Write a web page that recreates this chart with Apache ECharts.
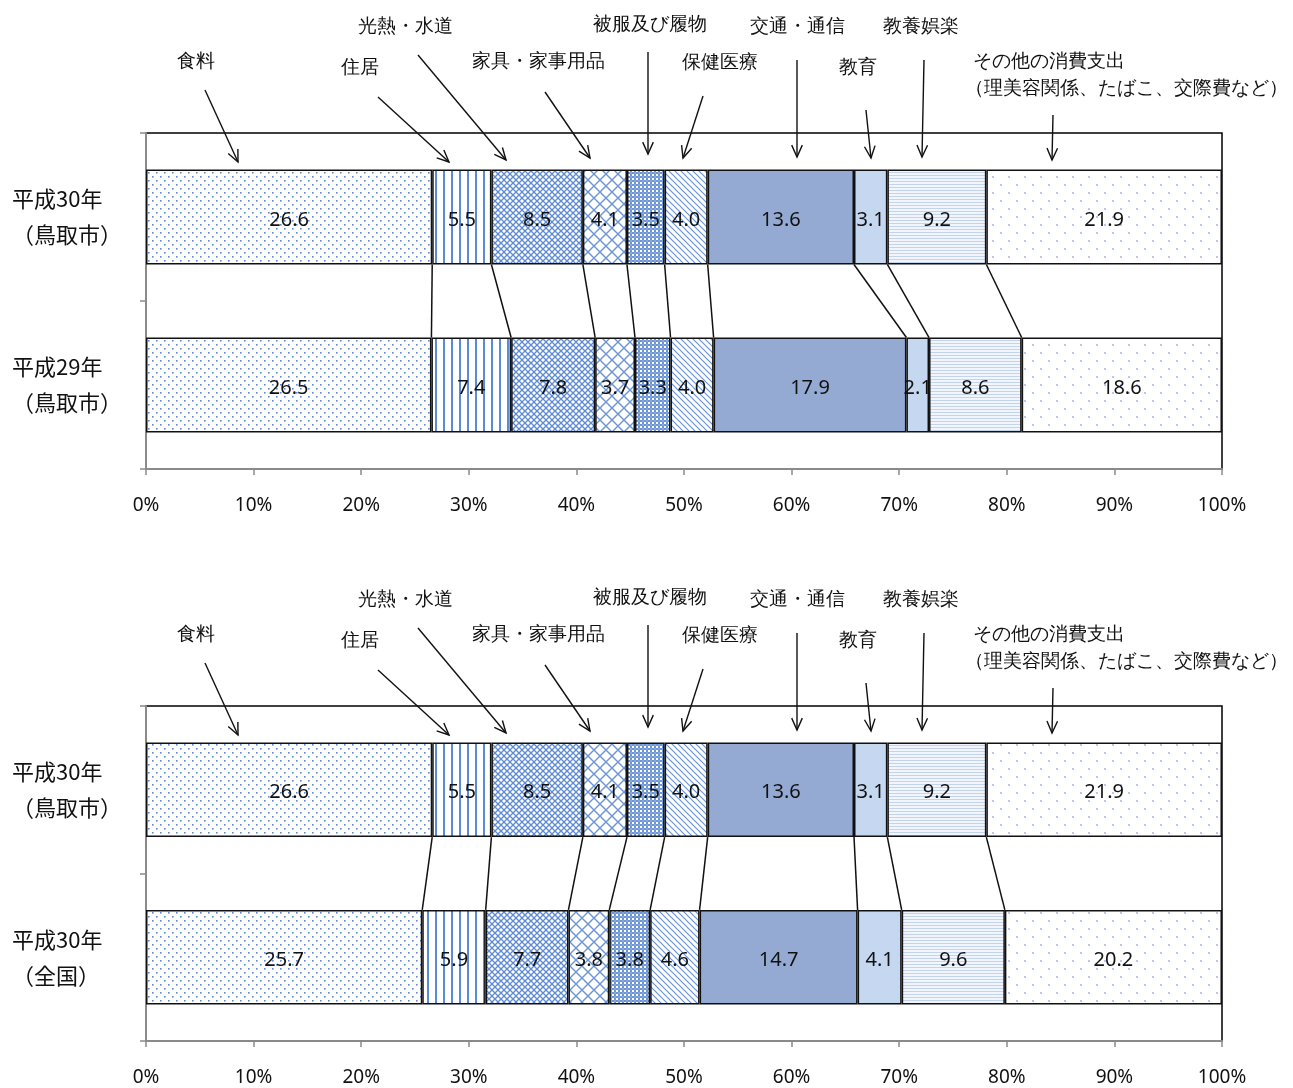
<!DOCTYPE html>
<html><head><meta charset="utf-8">
<script src="https://cdn.jsdelivr.net/npm/echarts@6/dist/echarts.min.js"></script>
<style>html,body{margin:0;padding:0;background:#fff}#c{width:1293px;height:1088px}</style>
</head><body><div id="c"></div>
<script>
// ---------------- data ----------------
const itemNames = ['食料','住居','光熱・水道','家具・家事用品','被服及び履物','保健医療','交通・通信','教育','教養娯楽','その他の消費支出'];
const categoriesTop = ['平成30年\n（鳥取市）','平成29年\n（鳥取市）'];
const categoriesBottom = ['平成30年\n（鳥取市）','平成30年\n（全国）'];
const tottoriH30 = [26.6,5.5,8.5,4.1,3.5,4.0,13.6,3.1,9.2,21.9];
const tottoriH29 = [26.5,7.4,7.8,3.7,3.3,4.0,17.9,2.1,8.6,18.6];
const nationalH30 = [25.7,5.9,7.7,3.8,3.8,4.6,14.7,4.1,9.6,20.2];
const xTickLabels = ['0%','10%','20%','30%','40%','50%','60%','70%','80%','90%','100%'];
const annotationLines = [['食料'],['住居'],['光熱・水道'],['家具・家事用品'],['被服及び履物'],['保健医療'],['交通・通信'],['教育'],['教養娯楽'],['その他の消費支出','（理美容関係、たばこ、交際費など）']];

// ---------------- layout / style ----------------
const BAR_RATIO = 0.565;
const panels = [
  {top:133, height:336, cats:categoriesTop, rows:[tottoriH30, tottoriH29]},
  {top:706, height:335, cats:categoriesBottom, rows:[tottoriH30, nationalH30]}
];
// annotation placement relative to panel top: [textX, textY, align, arrowFromX, arrowFromY, arrowToX, arrowToY]
const annotationLayout = [
  [196,-71,'center',205,-43,238,29],
  [360,-65,'center',378,-36,449,29],
  [405,-106,'center',418,-78,506,27],
  [538,-71,'center',545,-41,590,25],
  [650,-108,'center',648,-81,648,21],
  [720,-70,'center',703,-37,683,25],
  [797,-106,'center',797,-73,797,24],
  [858,-65,'center',866,-23,871,25],
  [921,-106,'center',924,-73,922,24],
  [973,-71,'left',1053,-18,1052,27]
];

function pat(w,h,bg,draw){
  const c=document.createElement('canvas');c.width=w;c.height=h;
  const g=c.getContext('2d');
  g.fillStyle=bg;g.fillRect(0,0,w,h);
  draw(g);
  return {image:c,repeat:'repeat'};
}
const fills = [
  pat(8,8,'#fff',g=>{g.fillStyle='#5d8ad0';g.fillRect(0,0,1.6,1.6);g.fillRect(4,4,1.6,1.6);}),
  pat(8,8,'#fff',g=>{g.fillStyle='#5b8bd3';g.fillRect(3,0,2,8);}),
  pat(6,6,'#fff',g=>{g.strokeStyle='#5d8ad0';g.lineWidth=1.3;g.beginPath();g.moveTo(0,0);g.lineTo(6,6);g.moveTo(6,0);g.lineTo(0,6);g.stroke();}),
  pat(12,12,'#fff',g=>{g.strokeStyle='#6a94d6';g.lineWidth=1.4;g.beginPath();g.moveTo(0,0);g.lineTo(12,12);g.moveTo(12,0);g.lineTo(0,12);g.stroke();}),
  pat(4,4,'#fff',g=>{g.fillStyle='#6c95d6';g.fillRect(0,0,2,2);g.fillRect(2,2,2,2);g.fillStyle='#86a8dd';g.fillRect(2,0,2,2);}),
  pat(6,6,'#fff',g=>{g.strokeStyle='#6a94d6';g.lineWidth=1.2;g.beginPath();g.moveTo(-1,-1);g.lineTo(7,7);g.moveTo(-4,2);g.lineTo(4,10);g.moveTo(2,-4);g.lineTo(10,4);g.stroke();}),
  '#94aad3',
  pat(8,8,'#c6d8ef',g=>{g.fillStyle='#b8cff0';g.fillRect(2,2,1,1);}),
  pat(3,3,'#f2f6fc',g=>{g.fillStyle='#c3d5ee';g.fillRect(0,1,3,1);}),
  pat(16,16,'#fff',g=>{g.fillStyle='#b6cbeb';g.fillRect(0,0,2,2);g.fillRect(8,8,2,2);})
];

// ---------------- build ----------------
const grids=[],xAxes=[],yAxes=[],series=[],graphics=[];
panels.forEach((p,pi)=>{
  grids.push({left:146,top:p.top,width:1076,height:p.height,show:true,borderColor:'#000',borderWidth:1.5,backgroundColor:'transparent'});
  xAxes.push({type:'value',gridIndex:pi,min:0,max:100,interval:10,
    axisLine:{show:true,lineStyle:{color:'#8a8a8a',width:2}},
    axisTick:{show:true,length:6,lineStyle:{color:'#8a8a8a',width:1.5}},
    splitLine:{show:false},
    axisLabel:{margin:27,fontSize:19,color:'#111',fontFamily:'Noto Sans, sans-serif',formatter:v=>xTickLabels[Math.round(v/10)]}});
  yAxes.push({type:'category',gridIndex:pi,inverse:true,data:p.cats,
    axisLine:{show:true,lineStyle:{color:'#8a8a8a',width:2}},
    axisTick:{show:true,length:6,lineStyle:{color:'#8a8a8a',width:1.5}},
    axisLabel:{align:'left',margin:134,fontSize:22,lineHeight:36,color:'#111',fontFamily:'Noto Sans CJK JP, sans-serif'}});
  const sums=p.rows.map(r=>r.reduce((a,b)=>a+b,0));
  itemNames.forEach((nm,i)=>{
    series.push({type:'bar',name:nm,xAxisIndex:pi,yAxisIndex:pi,stack:'s'+pi,barWidth:(BAR_RATIO*100)+'%',
      data:p.rows.map((r,ri)=>r[i]/sums[ri]*100),
      itemStyle:{color:fills[i],borderColor:'#111',borderWidth:1.5},
      label:{show:true,position:'inside',offset:[0,3],fontSize:20,color:'#111',fontFamily:'Noto Sans, sans-serif',
        formatter:prm=>p.rows[prm.dataIndex][i].toFixed(1)},
      emphasis:{disabled:true},silent:true});
  });
  // connector lines between the two bars (cumulative boundaries)
  const conn=[];let c0=0,c1=0;
  for(let i=0;i<itemNames.length-1;i++){c0+=p.rows[0][i]/sums[0]*100;c1+=p.rows[1][i]/sums[1]*100;conn.push([c0,c1,0]);}
  series.push({type:'custom',xAxisIndex:pi,yAxisIndex:pi,data:conn,encode:{x:[0,1],y:2},silent:true,z:5,
    renderItem:(params,api)=>{
      const a=api.coord([api.value(0),0]);const b=api.coord([api.value(1),1]);
      const h=api.size([0,1])[1]*BAR_RATIO/2;
      return {type:'line',shape:{x1:a[0],y1:a[1]+h,x2:b[0],y2:b[1]-h},style:{stroke:'#111',lineWidth:1.5}};
    }});
  // annotations
  annotationLayout.forEach((L,k)=>{
    const lines=annotationLines[k];
    lines.forEach((t,li)=>{
      graphics.push({type:'text',x:L[0]-(li?8:0),y:p.top+L[1]+li*27,style:{text:t,fontSize:19,fill:'#111',font:'19px "Noto Sans CJK JP"',textAlign:L[2],textVerticalAlign:'middle'}});
    });
    const x1=L[3],y1=p.top+L[4],x2=L[5],y2=p.top+L[6];
    const ang=Math.atan2(y2-y1,x2-x1),hl=13,ha=0.42;
    graphics.push({type:'line',shape:{x1,y1,x2,y2},style:{stroke:'#111',lineWidth:1.4}});
    graphics.push({type:'polyline',shape:{points:[[x2-hl*Math.cos(ang-ha),y2-hl*Math.sin(ang-ha)],[x2,y2],[x2-hl*Math.cos(ang+ha),y2-hl*Math.sin(ang+ha)]]},style:{stroke:'#111',lineWidth:1.4,fill:null}});
  });
});

const chart=echarts.init(document.getElementById('c'),null,{renderer:'canvas'});
chart.setOption({animation:false,backgroundColor:'#fff',grid:grids,xAxis:xAxes,yAxis:yAxes,series,graphic:graphics});
</script></body></html>
